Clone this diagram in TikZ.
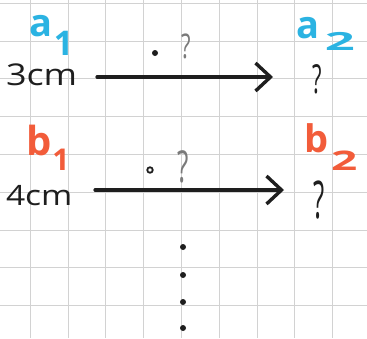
\documentclass[tikz,border=0pt]{standalone}
\usepackage{fontspec}
\setmainfont{Open Sans}
\usetikzlibrary{arrows.meta}
\definecolor{cyanink}{HTML}{2BB3E2}
\definecolor{redink}{HTML}{F25C3A}
\definecolor{ink}{HTML}{1E1E1E}
\definecolor{pencil}{HTML}{7A7A7A}
\definecolor{gridc}{HTML}{D2D2D2}
\begin{document}
\begin{tikzpicture}[x=1pt,y=-1pt,
  lbl/.style={inner sep=0pt, outer sep=0pt, anchor=base west},
  marker/.style={lbl, font=\bfseries},
  gridline/.style={draw=gridc, line width=0.6pt},
  inkarrow/.style={draw=ink, line width=3.2pt, line cap=round,
    -{Straight Barb[length=15pt,width=28pt,line width=3.4pt]}},
  inkdot/.style={circle, fill=ink, inner sep=0pt, minimum size=6pt},
  ringdot/.style={circle, draw=ink, line width=1.8pt, inner sep=0pt, minimum size=5.5pt}]
\fill[white] (0,0) rectangle (367,338);
\useasboundingbox (0,0) rectangle (367,338);
% grid paper
\foreach \i in {0,...,8}{
  \draw[gridline] ({30+37.8*\i},0) -- ++(0,338);
  \draw[gridline] (0,{3+37.8*\i}) -- ++(367,0);
}
% labels
\node[marker, text=cyanink] (a1) at (30,36)
  {\fontsize{38}{38}\selectfont a\kern1pt\raisebox{-19pt}{\fontsize{34}{34}\selectfont 1}};
\node[marker, text=cyanink] (a2) at (296,38)
  {\fontsize{38}{38}\selectfont a\kern6pt\raisebox{-12pt}{\scalebox{2.1}[1]{\fontsize{25}{25}\selectfont 2}}};
\node[marker, text=redink] (b1) at (26,155)
  {\fontsize{40}{40}\selectfont b\kern1pt\raisebox{-15pt}{\fontsize{30}{30}\selectfont 1}};
\node[marker, text=redink] (b2) at (304,152)
  {\fontsize{38}{38}\selectfont b\kern3pt\raisebox{-18pt}{\scalebox{1.7}[1]{\fontsize{27}{27}\selectfont 2}}};
\node[lbl, text=ink] (l3) at (6,85)
  {\scalebox{1.2}[1]{\fontsize{30}{30}\selectfont 3cm}};
\node[lbl, text=ink] (l4) at (6,205)
  {\scalebox{1.2}[1]{\fontsize{28}{28}\selectfont 4cm}};
% arrows
\coordinate (as) at (97,77);
\coordinate (ae) at (273,77);
\coordinate (bs) at (95,190);
\coordinate (be) at (284,190);
\draw[inkarrow] (as) -- (ae);
\draw[inkarrow] (bs) -- (be);
% marks above arrows
\node[inkdot] (d1) at (155,53) {};
\node[lbl, text=pencil] (q1) at (181,58)
  {\scalebox{0.65}[1]{\fontsize{34}{34}\selectfont ?}};
\node[ringdot] (d2) at (150,170) {};
\node[lbl, text=pencil] (q2) at (177,182)
  {\scalebox{0.6}[1]{\fontsize{44}{44}\selectfont ?}};
% question marks on the right
\node[lbl, text=ink] (q3) at (312,93)
  {\scalebox{0.55}[1]{\fontsize{40}{40}\selectfont ?}};
\node[lbl, text=ink] (q4) at (313,218)
  {\scalebox{0.5}[1]{\fontsize{52}{52}\selectfont ?}};
% vertical dots
\node[inkdot] (v1) at (183,247) {};
\node[inkdot] (v2) at (183,275) {};
\node[inkdot] (v3) at (183,302) {};
\node[inkdot] (v4) at (183,328) {};
\end{tikzpicture}
\end{document}
